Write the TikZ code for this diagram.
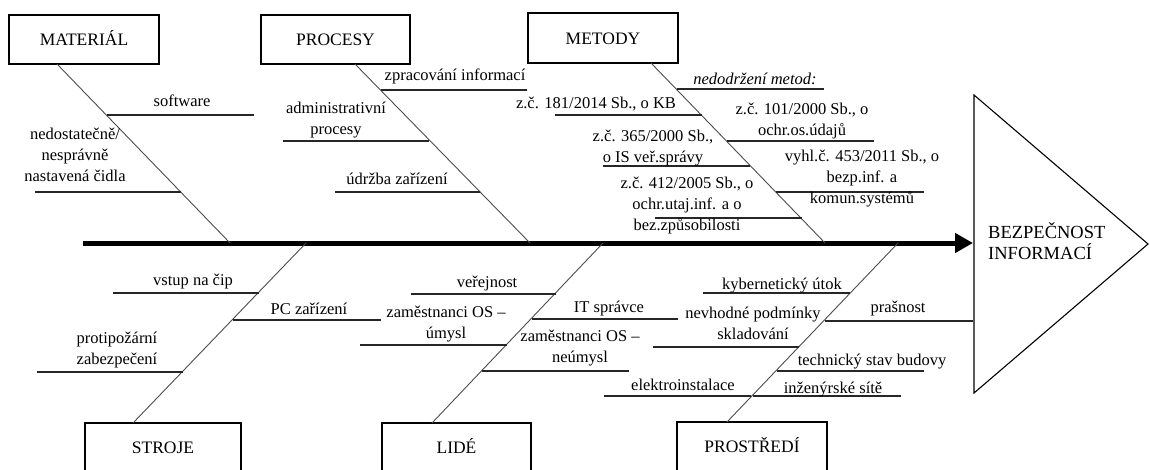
\documentclass[tikz,border=0pt]{standalone}
\usepackage{fontspec}
\setmainfont{Liberation Serif}
\usetikzlibrary{arrows.meta}
\begin{document}
\begin{tikzpicture}[x=1pt,y=-1pt,
  cat/.style={draw=black, line width=1.1pt, minimum height=49pt, inner sep=0pt,
    font=\fontsize{17.5}{21}\selectfont, text height=12.5pt, text depth=0pt},
  bone/.style={draw=black!70, line width=0.9pt},
  twig/.style={draw=black!85, line width=1.2pt},
  lbl/.style={inner sep=0pt, align=center, font=\fontsize{16.5}{21}\selectfont,
    execute at begin node=\strut, execute at end node=\strut},
  one/.style={lbl, anchor=base},
  multi/.style={lbl, anchor=north},
  spine/.style={line width=5pt, -{Triangle[length=18pt,width=19pt]}},
]
\useasboundingbox (0,0) rectangle (1150,469);
\clip (0,0) rectangle (1150,469);

% category boxes
\node[cat, minimum width=150pt] (mat) at (84,39.5) {MATERIÁL};
\node[cat, minimum width=149pt] (proc) at (335.5,39.5) {PROCESY};
\node[cat, minimum width=150pt, minimum height=50pt] (met) at (603,38) {METODY};
\node[cat, minimum width=156pt] (stroje) at (163,447.5) {STROJE};
\node[cat, minimum width=149pt] (lide) at (456.5,447.5) {LIDÉ};
\node[cat, minimum width=150pt] (prost) at (752,446.5) {PROSTŘEDÍ};

% effect triangle
\draw[line width=1.1pt] (974,95) -- (1148,244) -- (974,393) -- cycle;
\node[inner sep=0pt, align=left, anchor=north west, font=\fontsize{18.5}{21}\selectfont,
  execute at begin node=\strut] (eff) at (988,222.3) {BEZPEČNOST\\INFORMACÍ};

% spine
\coordinate (s0) at (83,243);
\coordinate (s1) at (973,243);
\draw[spine] (s0) -- (s1);

% bones
\coordinate (b1a) at (57,64);   \coordinate (b1b) at (230,243);
\coordinate (b2a) at (355,64);  \coordinate (b2b) at (530,243);
\coordinate (b3a) at (651,63);  \coordinate (b3b) at (825,243);
\coordinate (b4a) at (133,423); \coordinate (b4b) at (306,243);
\coordinate (b5a) at (432,423); \coordinate (b5b) at (603,243);
\coordinate (b6a) at (727,422); \coordinate (b6b) at (898,243);
\draw[bone] (b1a) -- (b1b);
\draw[bone] (b2a) -- (b2b);
\draw[bone] (b3a) -- (b3b);
\draw[bone] (b4a) -- (b4b);
\draw[bone] (b5a) -- (b5b);
\draw[bone] (b6a) -- (b6b);

% twigs
\draw[twig] (107,115) -- (254,115);
\draw[twig] (35,192) -- (181,192);
\draw[twig] (381,90) -- (527,90);
\draw[twig] (283,141) -- (429,141);
\draw[twig] (335,192) -- (480,192);
\draw[twig] (677,89) -- (824,89);
\draw[twig] (555,115) -- (702,115);
\draw[twig] (727,141) -- (874,141);
\draw[twig] (603,166) -- (750,166);
\draw[twig] (776,192) -- (924,192);
\draw[twig] (655,218) -- (802,218);
\draw[twig] (113,293) -- (259,293);
\draw[twig] (233,320) -- (381,320);
\draw[twig] (37,372) -- (183,372);
\draw[twig] (411,294) -- (556,294);
\draw[twig] (532,319) -- (678,319);
\draw[twig] (360,345) -- (507,345);
\draw[twig] (482,371) -- (629,371);
\draw[twig] (604,396) -- (751,396);
\draw[twig] (703,293) -- (850,293);
\draw[twig] (825,321) -- (973,321);
\draw[twig] (653,347) -- (799,347);
\draw[twig] (777,371) -- (924,371);
\draw[twig] (753,396) -- (901,396);

% labels
\node[one] (l1) at (182,106) {software};
\node[multi] (l2) at (75,128.3) {nedostatečně/\\nesprávně\\nastavená čidla};
\node[one] (l3) at (455,80) {zpracování informací};
\node[multi] (l4) at (336,102.3) {administrativní\\procesy};
\node[one] (l5) at (397,184) {údržba zařízení};
\node[one] (l6) at (755,84) {\itshape nedodržení metod:};
\node[one] (l7) at (596,108) {z.č. 181/2014 Sb., o KB};
\node[multi] (l8) at (802,103.3) {z.č. 101/2000 Sb., o\\ochr.os.údajů};
\node[multi] (l9) at (653,130.3) {z.č. 365/2000 Sb.,\\o IS veř.správy};
\node[multi] (l10) at (862,150.3) {vyhl.č. 453/2011 Sb., o\\bezp.inf. a\\komun.systémů};
\node[multi] (l11) at (687,177.3) {z.č. 412/2005 Sb., o\\ochr.utaj.inf. a o\\bez.způsobilosti};
\node[one] (l12) at (193,285) {vstup na čip};
\node[one] (l13) at (309,314) {PC zařízení};
\node[multi] (l14) at (117,332.3) {protipožární\\zabezpečení};
\node[one] (l15) at (487,287) {veřejnost};
\node[one] (l16) at (609,312) {IT správce};
\node[multi] (l17) at (446,306.3) {zaměstnanci OS –\\úmysl};
\node[multi] (l18) at (580,330.3) {zaměstnanci OS –\\neúmysl};
\node[one] (l19) at (683,390) {elektroinstalace};
\node[one] (l20) at (782,289) {kybernetický útok};
\node[one] (l21) at (898,312) {prašnost};
\node[multi] (l22) at (753,307.3) {nevhodné podmínky\\skladování};
\node[one] (l23) at (872,365) {technický stav budovy};
\node[one] (l24) at (833,393) {inženýrské sítě};
\end{tikzpicture}
\end{document}
